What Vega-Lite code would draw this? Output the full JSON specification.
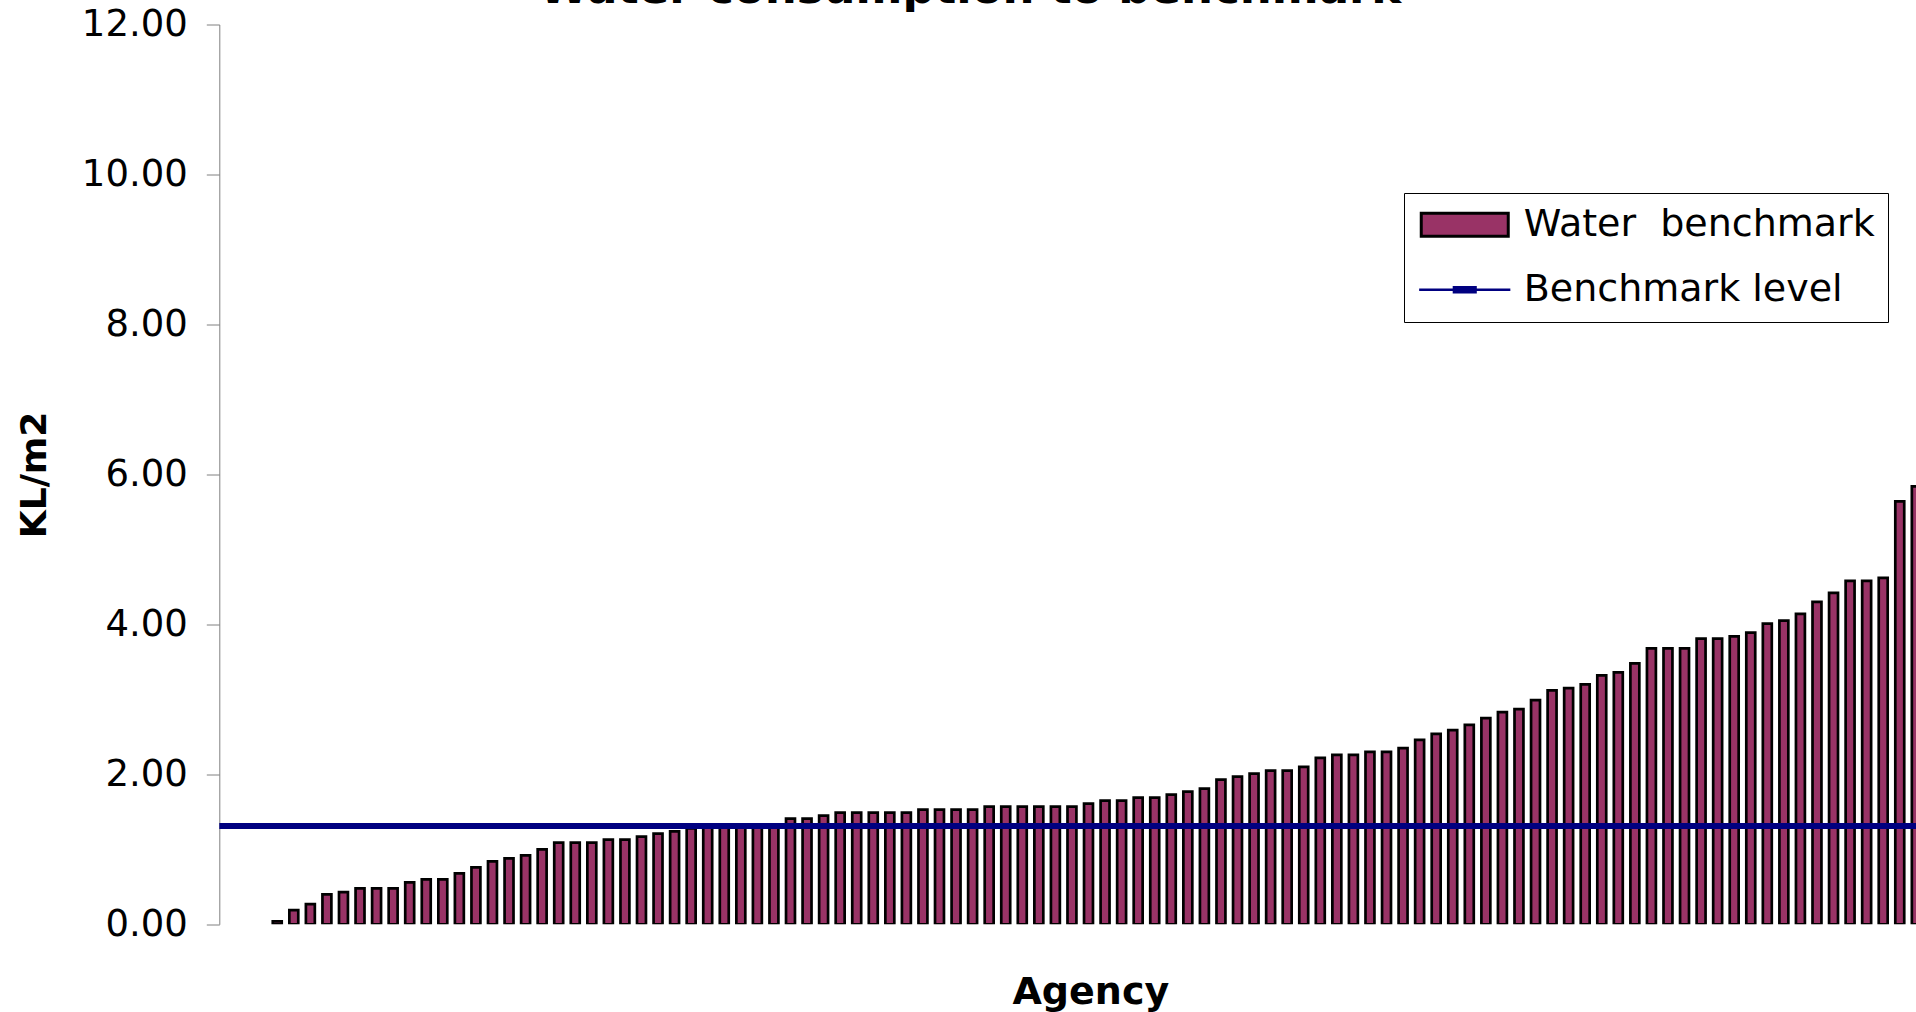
{
  "$schema": "https://vega.github.io/schema/vega-lite/v6.json",
  "width": 1696.7,
  "height": 899.8,
  "autosize": {"type": "none"},
  "padding": {"left": 219.3, "top": 24.5, "right": 0, "bottom": 87.7},
  "background": "white",
  "title": {
    "text": "Water consumption to benchmark",
    "font": "DejaVu Sans",
    "fontSize": 45,
    "fontWeight": "bold",
    "color": "black",
    "anchor": "middle",
    "frame": "group",
    "dx": -97.6,
    "dy": -8,
    "offset": -14
  },
  "config": {"view": {"stroke": null}, "font": "DejaVu Sans"},
  "layer": [
    {
      "data": {"values": [
        {"agency": 4, "kl_m2": 0.04}, {"agency": 5, "kl_m2": 0.19}, {"agency": 6, "kl_m2": 0.27}, {"agency": 7, "kl_m2": 0.40},
        {"agency": 8, "kl_m2": 0.43}, {"agency": 9, "kl_m2": 0.48}, {"agency": 10, "kl_m2": 0.48}, {"agency": 11, "kl_m2": 0.48},
        {"agency": 12, "kl_m2": 0.56}, {"agency": 13, "kl_m2": 0.60}, {"agency": 14, "kl_m2": 0.60}, {"agency": 15, "kl_m2": 0.68},
        {"agency": 16, "kl_m2": 0.76}, {"agency": 17, "kl_m2": 0.84}, {"agency": 18, "kl_m2": 0.88}, {"agency": 19, "kl_m2": 0.92},
        {"agency": 20, "kl_m2": 1.00}, {"agency": 21, "kl_m2": 1.09}, {"agency": 22, "kl_m2": 1.09}, {"agency": 23, "kl_m2": 1.09},
        {"agency": 24, "kl_m2": 1.13}, {"agency": 25, "kl_m2": 1.13}, {"agency": 26, "kl_m2": 1.17}, {"agency": 27, "kl_m2": 1.21},
        {"agency": 28, "kl_m2": 1.24}, {"agency": 29, "kl_m2": 1.28}, {"agency": 30, "kl_m2": 1.29}, {"agency": 31, "kl_m2": 1.30},
        {"agency": 32, "kl_m2": 1.30}, {"agency": 33, "kl_m2": 1.31}, {"agency": 34, "kl_m2": 1.32}, {"agency": 35, "kl_m2": 1.41},
        {"agency": 36, "kl_m2": 1.41}, {"agency": 37, "kl_m2": 1.45}, {"agency": 38, "kl_m2": 1.49}, {"agency": 39, "kl_m2": 1.49},
        {"agency": 40, "kl_m2": 1.49}, {"agency": 41, "kl_m2": 1.49}, {"agency": 42, "kl_m2": 1.49}, {"agency": 43, "kl_m2": 1.53},
        {"agency": 44, "kl_m2": 1.53}, {"agency": 45, "kl_m2": 1.53}, {"agency": 46, "kl_m2": 1.53}, {"agency": 47, "kl_m2": 1.57},
        {"agency": 48, "kl_m2": 1.57}, {"agency": 49, "kl_m2": 1.57}, {"agency": 50, "kl_m2": 1.57}, {"agency": 51, "kl_m2": 1.57},
        {"agency": 52, "kl_m2": 1.57}, {"agency": 53, "kl_m2": 1.61}, {"agency": 54, "kl_m2": 1.65}, {"agency": 55, "kl_m2": 1.65},
        {"agency": 56, "kl_m2": 1.69}, {"agency": 57, "kl_m2": 1.69}, {"agency": 58, "kl_m2": 1.73}, {"agency": 59, "kl_m2": 1.77},
        {"agency": 60, "kl_m2": 1.81}, {"agency": 61, "kl_m2": 1.93}, {"agency": 62, "kl_m2": 1.97}, {"agency": 63, "kl_m2": 2.01},
        {"agency": 64, "kl_m2": 2.05}, {"agency": 65, "kl_m2": 2.05}, {"agency": 66, "kl_m2": 2.10}, {"agency": 67, "kl_m2": 2.22},
        {"agency": 68, "kl_m2": 2.26}, {"agency": 69, "kl_m2": 2.26}, {"agency": 70, "kl_m2": 2.30}, {"agency": 71, "kl_m2": 2.30},
        {"agency": 72, "kl_m2": 2.35}, {"agency": 73, "kl_m2": 2.46}, {"agency": 74, "kl_m2": 2.54}, {"agency": 75, "kl_m2": 2.59},
        {"agency": 76, "kl_m2": 2.66}, {"agency": 77, "kl_m2": 2.75}, {"agency": 78, "kl_m2": 2.83}, {"agency": 79, "kl_m2": 2.87},
        {"agency": 80, "kl_m2": 2.99}, {"agency": 81, "kl_m2": 3.12}, {"agency": 82, "kl_m2": 3.15}, {"agency": 83, "kl_m2": 3.20},
        {"agency": 84, "kl_m2": 3.32}, {"agency": 85, "kl_m2": 3.36}, {"agency": 86, "kl_m2": 3.48}, {"agency": 87, "kl_m2": 3.68},
        {"agency": 88, "kl_m2": 3.68}, {"agency": 89, "kl_m2": 3.68}, {"agency": 90, "kl_m2": 3.81}, {"agency": 91, "kl_m2": 3.81},
        {"agency": 92, "kl_m2": 3.84}, {"agency": 93, "kl_m2": 3.89}, {"agency": 94, "kl_m2": 4.01}, {"agency": 95, "kl_m2": 4.05},
        {"agency": 96, "kl_m2": 4.14}, {"agency": 97, "kl_m2": 4.30}, {"agency": 98, "kl_m2": 4.42}, {"agency": 99, "kl_m2": 4.58},
        {"agency": 100, "kl_m2": 4.58}, {"agency": 101, "kl_m2": 4.62}, {"agency": 102, "kl_m2": 5.64}, {"agency": 103, "kl_m2": 5.84}
      ]},
      "mark": {"type": "bar", "width": {"band": 0.54}, "stroke": "black", "strokeWidth": 2.7, "clip": true},
      "encoding": {
        "x": {
          "field": "agency",
          "type": "ordinal",
          "scale": {
            "domain": [1,2,3,4,5,6,7,8,9,10,11,12,13,14,15,16,17,18,19,20,21,22,23,24,25,26,27,28,29,30,31,32,33,34,35,36,37,38,39,40,41,42,43,44,45,46,47,48,49,50,51,52,53,54,55,56,57,58,59,60,61,62,63,64,65,66,67,68,69,70,71,72,73,74,75,76,77,78,79,80,81,82,83,84,85,86,87,88,89,90,91,92,93,94,95,96,97,98,99,100,101,102,103],
            "range": [0, 1705.3],
            "paddingInner": 0,
            "paddingOuter": 0
          },
          "axis": {
            "title": "Agency",
            "labels": false,
            "ticks": false,
            "domain": false,
            "grid": false,
            "titleFont": "DejaVu Sans",
            "titleFontSize": 38,
            "titleFontWeight": "bold",
            "titleColor": "black",
            "titleBaseline": "alphabetic",
            "titleX": 871,
            "titleY": 78.7
          }
        },
        "y": {
          "field": "kl_m2",
          "type": "quantitative",
          "scale": {"domain": [0, 12], "nice": false},
          "axis": {
            "values": [0, 2, 4, 6, 8, 10, 12],
            "format": ".2f",
            "title": "KL/m2",
            "titleFont": "DejaVu Sans",
            "titleFontSize": 36,
            "titleFontWeight": "bold",
            "titleColor": "black",
            "titlePadding": 28,
            "labelFont": "DejaVu Sans",
            "labelFontSize": 37,
            "labelColor": "black",
            "labelPadding": 19,
            "tickSize": 13,
            "tickColor": "#808080",
            "domainColor": "#808080",
            "grid": false
          }
        },
        "color": {
          "datum": "Water\u00a0 benchmark",
          "type": "nominal",
          "scale": {"domain": ["Water\u00a0 benchmark", "Benchmark level"], "range": ["#993366", "#000080"]},
          "legend": {
            "title": null,
            "orient": "none",
            "legendX": 1184.7,
            "legendY": 168.5,
            "direction": "vertical",
            "strokeColor": "#000000",
            "fillColor": "white",
            "padding": 12.75,
            "labelFont": "DejaVu Sans",
            "labelFontSize": 38,
            "labelColor": "black",
            "labelLimit": 0,
            "symbolSize": 576,
            "symbolOffset": 29,
            "labelOffset": 40,
            "rowPadding": 27,
            "symbolType": {"expr": "datum.value === 'Benchmark level' ? 'M-3.8,0H3.8M-0.9,-0.2H0.9V0.2H-0.9Z' : 'M-3.625,-0.958H3.625V0.958H-3.625Z'"},
            "symbolFillColor": {"expr": "datum.value === 'Benchmark level' ? '#000080' : '#993366'"},
            "symbolStrokeColor": {"expr": "datum.value === 'Benchmark level' ? '#000080' : '#000000'"},
            "symbolStrokeWidth": {"expr": "datum.value === 'Benchmark level' ? 2.5 : 3"},
            "symbolOpacity": 1
          }
        }
      }
    },
    {
      "data": {"values": [{"series": "Benchmark level", "level": 1.31}]},
      "mark": {"type": "rule", "strokeWidth": 6, "color": "#000080"},
      "encoding": {
        "y": {"field": "level", "type": "quantitative"}
      }
    }
  ]
}
